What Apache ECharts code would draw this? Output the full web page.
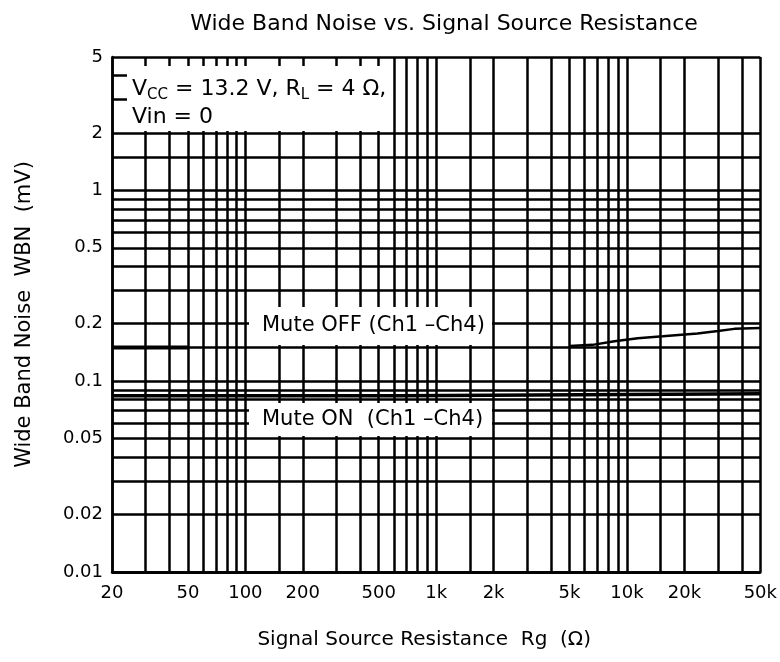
<!DOCTYPE html>
<html><head><meta charset="utf-8">
<script src="https://cdn.jsdelivr.net/npm/echarts@6/dist/echarts.min.js"></script>
<style>html,body{margin:0;padding:0;background:#fff}#c{width:780px;height:662px}</style>
</head><body><div id="c"></div>
<script>
// ---- data ----
const xTickLabels = [20, 50, 100, 200, 500, 1000, 2000, 5000, 10000, 20000, 50000];
const yTickLabels = [0.01, 0.02, 0.05, 0.1, 0.2, 0.5, 1, 2, 5];
const xGridValues = [20,30,40,50,60,70,80,90,100,150,200,300,400,500,600,700,800,900,1000,1500,2000,3000,4000,5000,6000,7000,8000,9000,10000,15000,20000,30000,40000,50000];
const yGridValues = [0.01,0.015,0.02,0.03,0.04,0.05,0.06,0.07,0.08,0.09,0.1,0.15,0.2,0.3,0.4,0.5,0.6,0.7,0.8,0.9,1,1.5,2,5];
const yStubValues = [3, 4];
const muteOffLowR = [20, 50];
const muteOffLowWBN = [0.15, 0.15];
const muteOffHighR = [5000, 6600, 8600, 11400, 15400, 23400, 30000, 36500, 50000];
const muteOffHighWBN = [0.153, 0.155, 0.162, 0.168, 0.172, 0.178, 0.183, 0.188, 0.19];
const muteOnR = [20, 640, 650, 50000];
const muteOnWBN = [0.084, 0.084, 0.086, 0.086];

const FONT = 'DejaVu Sans';
const pairs = (xs, ys) => xs.map((x, i) => [x, ys[i]]);
const fmtX = v => v >= 1000 ? (Math.round(v / 1000)) + 'k' : String(Math.round(v));
const fmtY = v => String(+(+v).toPrecision(3));

const chart = echarts.init(document.getElementById('c'), null, {renderer: 'canvas'});
const gridLineStyle = {color: '#000', width: 2.5, type: 'solid', opacity: 1};

chart.setOption({
  animation: false,
  backgroundColor: '#fff',
  title: {
    text: 'Wide Band Noise vs. Signal Source Resistance',
    left: 439, top: 8, textAlign: 'center',
    textStyle: {fontFamily: FONT, fontSize: 22, fontWeight: 'normal', color: '#000'}
  },
  grid: {left: 112, right: 17, top: 57, bottom: 90, containLabel: false},
  xAxis: {
    type: 'log', logBase: 10, min: 20, max: 50000,
    name: 'Signal Source Resistance  Rg  (\u03A9)', nameLocation: 'middle', nameGap: 58,
    nameTextStyle: {fontFamily: FONT, fontSize: 20, color: '#000', padding: [0, 24, 0, 0]},
    axisLine: {show: true, lineStyle: {color: '#000', width: 2.5}},
    axisTick: {show: false},
    splitLine: {show: false},
    minorSplitLine: {show: false},
    axisLabel: {customValues: xTickLabels, formatter: fmtX, margin: 12, showMinLabel: true, showMaxLabel: true,
      fontFamily: FONT, fontSize: 18, color: '#000'},
    z: 100
  },
  yAxis: {
    type: 'log', logBase: 10, min: 0.01, max: 5,
    name: 'Wide Band Noise  WBN  (mV)', nameLocation: 'middle', nameGap: 77,
    nameTextStyle: {fontFamily: FONT, fontSize: 21, color: '#000'},
    axisLine: {show: true, lineStyle: {color: '#000', width: 2.5}},
    axisTick: {show: true, inside: true, length: 15, customValues: yStubValues, lineStyle: {color: '#000', width: 2.5}},
    splitLine: {show: false},
    minorSplitLine: {show: false},
    axisLabel: {customValues: yTickLabels, formatter: fmtY, margin: 9, showMinLabel: true, showMaxLabel: true,
      fontFamily: FONT, fontSize: 18, color: '#000'},
    z: 100
  },
  series: [
    {
      type: 'line', name: 'grid', data: [], silent: true, z: 2,
      markLine: {
        silent: true, symbol: ['none', 'none'], animation: false,
        label: {show: false}, lineStyle: gridLineStyle,
        emphasis: {disabled: true},
        data: xGridValues.map(v => ({xAxis: v})).concat(yGridValues.map(v => ({yAxis: v})))
      }
    },
    {type: 'line', name: 'Mute OFF (Ch1-Ch4)', data: pairs(muteOffLowR, muteOffLowWBN), showSymbol: false, symbol: 'none', lineStyle: {color: '#000', width: 4}, itemStyle: {color: '#000'}, z: 5},
    {type: 'line', name: 'Mute OFF (Ch1-Ch4) ', data: pairs(muteOffHighR, muteOffHighWBN), showSymbol: false, symbol: 'none', lineStyle: {color: '#000', width: 2.5}, itemStyle: {color: '#000'}, z: 5},
    {type: 'line', name: 'Mute ON (Ch1-Ch4)', data: pairs(muteOnR, muteOnWBN), showSymbol: false, symbol: 'none', lineStyle: {color: '#000', width: 3.5}, itemStyle: {color: '#000'}, z: 5}
  ],
  graphic: [
    {type: 'rect', z: 50, silent: true, shape: {x: 114, y: 66, width: 278, height: 65}, style: {fill: '#fff'}},
    {type: 'rect', z: 50, silent: true, shape: {x: 249, y: 307, width: 243, height: 38}, style: {fill: '#fff'}},
    {type: 'rect', z: 50, silent: true, shape: {x: 249, y: 403, width: 243, height: 33}, style: {fill: '#fff'}},
    {type: 'text', z: 60, silent: true, x: 132, y: 75,
      style: {
        text: '{n|V}{s|CC}{n| = 13.2 V, R}{s|L}{n| = 4 \u03A9,}\n{n|Vin = 0}',
        rich: {
          n: {fontFamily: FONT, fontSize: 22, lineHeight: 28, fill: '#000'},
          s: {fontFamily: FONT, fontSize: 15, lineHeight: 15, verticalAlign: 'bottom', fill: '#000'}
        },
        fill: '#000'
      }},
    {type: 'text', z: 60, silent: true, x: 262, y: 326,
      style: {text: 'Mute OFF (Ch1 \u2013Ch4)', fontFamily: FONT, fontSize: 21, fill: '#000', verticalAlign: 'middle'}},
    {type: 'text', z: 60, silent: true, x: 262, y: 420,
      style: {text: 'Mute ON  (Ch1 \u2013Ch4)', fontFamily: FONT, fontSize: 21, fill: '#000', verticalAlign: 'middle'}}
  ]
});
</script>
</body></html>
